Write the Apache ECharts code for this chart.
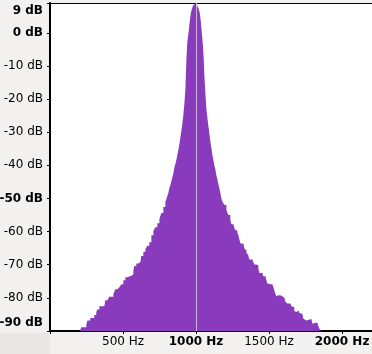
<!DOCTYPE html>
<html>
<head>
<meta charset="utf-8">
<script src="https://cdn.jsdelivr.net/npm/echarts@6/dist/echarts.min.js"></script>
<style>
  html, body { margin: 0; padding: 0; background: #f2f1ef; }
  #chart { width: 372px; height: 354px; }
</style>
</head>
<body>
<div id="chart"></div>
<script>
// spectrum columns: left edge frequency (Hz) and level (dB)
const freqHz = [
  207, 214, 249, 256, 276, 303, 317, 324, 338, 372,
  379, 393, 406, 434, 440, 447, 461, 475, 488, 502,
  516, 530, 557, 571, 577, 591, 605, 619, 625, 639,
  653, 666, 680, 694, 708, 721, 735, 749, 762, 776,
  790, 801, 810, 817, 824, 831, 838, 845, 851, 858,
  865, 872, 879, 886, 893, 899, 906, 913, 920, 927,
  934, 940, 951, 958, 964, 975, 982, 988, 995, 1002,
  1009, 1019, 1026, 1033, 1040, 1047, 1053, 1057, 1064, 1071,
  1077, 1084, 1091, 1098, 1105, 1112, 1119, 1125, 1132, 1139,
  1146, 1153, 1160, 1167, 1173, 1182, 1194, 1208, 1221, 1235,
  1242, 1256, 1262, 1269, 1283, 1290, 1297, 1304, 1324, 1331,
  1338, 1345, 1358, 1365, 1386, 1399, 1413, 1427, 1434, 1454,
  1461, 1475, 1482, 1488, 1495, 1509, 1516, 1523, 1530, 1536,
  1543, 1550, 1557, 1564, 1571, 1578, 1591, 1605, 1612, 1619,
  1626, 1632, 1639, 1646, 1653, 1660, 1673, 1680, 1687, 1694,
  1701, 1708, 1715, 1728, 1735, 1742, 1756, 1763, 1769, 1790,
  1797, 1804, 1810, 1817, 1824, 1831, 1838, 1845, 1852, 1858
];
const levelDb = [
  -89.8, -88.9, -88.0, -86.8, -86.1, -85.2, -84.3, -83.5, -82.5, -81.9,
  -80.7, -80.1, -79.7, -78.9, -78.2, -77.4, -76.8, -76.2, -75.9, -74.7,
  -73.8, -73.3, -72.9, -71.7, -70.4, -69.6, -69.2, -68.7, -67.4, -66.1,
  -65.3, -64.3, -63.2, -61.1, -59.8, -58.7, -57.5, -56.3, -54.4, -52.6,
  -51.1, -49.6, -48.4, -46.9, -46.0, -44.8, -43.6, -42.4, -40.9, -39.7,
  -38.5, -36.9, -35.4, -33.6, -31.5, -29.7, -27.6, -24.9, -21.5, -17.0,
  -8.0, -3.0, 1.1, 3.8, 5.9, 7.7, 8.4, 8.7, 9.0, 8.9,
  8.1, 7.1, 5.9, 3.3, -0.1, -3.7, -8.2, -12.8, -18.2, -23.0,
  -25.5, -27.9, -30.3, -32.7, -34.8, -36.9, -38.4, -39.9, -41.1, -43.0,
  -44.2, -45.7, -46.9, -48.4, -49.9, -51.1, -52.0, -53.5, -55.0, -56.6,
  -57.8, -58.4, -58.8, -59.6, -60.4, -61.1, -62.4, -63.6, -64.1, -65.1,
  -65.6, -66.4, -67.1, -68.4, -68.9, -69.9, -70.2, -71.2, -72.5, -72.7,
  -73.5, -73.9, -74.7, -75.7, -75.9, -75.5, -75.9, -76.5, -76.9, -77.5,
  -78.7, -79.5, -79.2, -78.9, -79.2, -79.7, -79.9, -80.5, -81.2, -81.7,
  -81.5, -81.2, -81.7, -81.9, -82.5, -82.8, -84.0, -84.3, -84.0, -83.8,
  -84.3, -84.6, -84.8, -85.3, -86.3, -86.8, -86.4, -86.2, -86.4, -87.0,
  -87.8, -87.9, -87.5, -87.3, -87.5, -87.9, -88.6, -89.3, -89.8, -90.0
];
const boldDbTicks = [9, 0, -50, -90];
const boldHzTicks = [1000, 2000];
const cursorHz = 1000;

const font = { fontFamily: 'DejaVu Sans', fontSize: 12, color: '#000' };

const chart = echarts.init(document.getElementById('chart'));
chart.setOption({
  animation: false,
  graphic: [
    { type: 'rect', left: 0, top: 333, shape: { width: 50, height: 21 }, style: { fill: '#e9e8e5' }, z: -1 }
  ],
  grid: {
    left: 50, right: 0, top: 3, bottom: 23,
    outerBoundsMode: 'none',
    show: true, backgroundColor: '#fff', borderWidth: 0
  },
  xAxis: [
    {
      type: 'value',
      min: 0,
      max: 2205,
      interval: 500,
      splitLine: { show: false },
      axisLine: { onZero: false, lineStyle: { color: '#000', width: 2 } },
      axisTick: { length: 3, lineStyle: { color: '#000' } },
      axisLabel: {
        margin: 5,
        ...font,
        formatter: (v) => {
          if (v <= 0 || v % 500 !== 0) return '';
          return boldHzTicks.includes(v) ? '{b|' + v + ' Hz}' : v + ' Hz';
        },
        rich: { b: { ...font, fontWeight: 'bold' } }
      }
    },
    {
      // top border of the plot
      type: 'value',
      position: 'top',
      min: 0,
      max: 2205,
      axisLine: { onZero: false, lineStyle: { color: '#000', width: 1 } },
      axisTick: { show: false },
      axisLabel: { show: false },
      splitLine: { show: false }
    }
  ],
  yAxis: {
    type: 'value',
    min: -90,
    max: 9,
    interval: 10,
    splitLine: { show: false },
    axisLine: { show: true, onZero: false, lineStyle: { color: '#000', width: 2 } },
    axisTick: { show: true, length: 3, lineStyle: { color: '#000' } },
    axisLabel: {
      margin: 7,
      showMinLabel: true,
      showMaxLabel: true,
      ...font,
      formatter: (v) => {
        const t = v + ' dB';
        if (v === 9) return '{top|' + t + '}';
        if (v === -90) return '{bot|' + t + '}';
        return boldDbTicks.includes(v) ? '{b|' + t + '}' : t;
      },
      rich: {
        b: { ...font, fontWeight: 'bold' },
        top: { ...font, fontWeight: 'bold', padding: [16, 0, 0, 0] },
        bot: { ...font, fontWeight: 'bold', padding: [0, 0, 16, 0] }
      }
    }
  },
  series: [
    {
      type: 'line',
      step: 'end',
      symbol: 'none',
      lineStyle: { width: 0 },
      areaStyle: { color: '#8a3bbd', opacity: 1, origin: 'start' },
      data: freqHz.map((f, i) => [f, levelDb[i]]),
      markLine: {
        silent: true,
        symbol: 'none',
        label: { show: false },
        lineStyle: { color: '#c9b6d6', width: 1, type: 'solid' },
        data: [{ xAxis: cursorHz }]
      }
    }
  ]
});
</script>
</body>
</html>
